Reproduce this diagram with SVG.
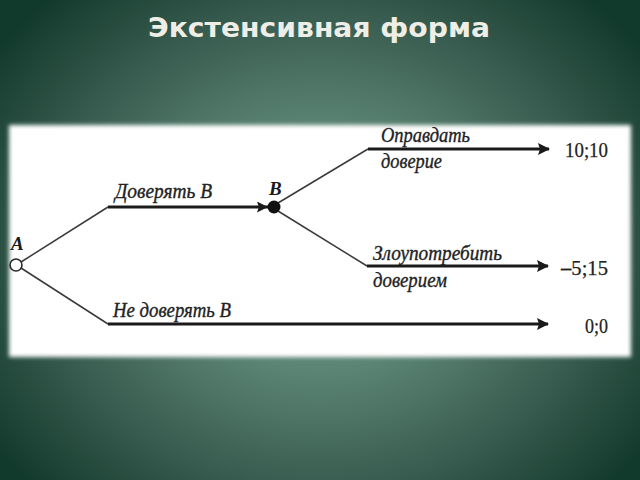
<svg xmlns="http://www.w3.org/2000/svg" width="640" height="480" viewBox="0 0 640 480">
  <defs>
    <radialGradient id="bg" gradientUnits="userSpaceOnUse" cx="320" cy="250" r="400" gradientTransform="translate(320 250) scale(1 0.85) translate(-320 -250)">
      <stop offset="0" stop-color="#6f9a8a"/>
      <stop offset="0.35" stop-color="#5c8575"/>
      <stop offset="0.7" stop-color="#385c4f"/>
      <stop offset="1" stop-color="#123a2c"/>
    </radialGradient>
    <filter id="soft" x="-5%" y="-5%" width="110%" height="110%">
      <feGaussianBlur stdDeviation="2"/>
    </filter>
    <marker id="arr" viewBox="0 0 12 12" refX="11" refY="6" markerWidth="13" markerHeight="12" markerUnits="userSpaceOnUse" orient="auto">
      <path d="M0,0 L12,6 L0,12 L2,6 z" fill="#1a1a1a"/>
    </marker>
    <marker id="arrB" viewBox="0 0 12 12" refX="12" refY="6" markerWidth="11" markerHeight="11" markerUnits="userSpaceOnUse" orient="auto">
      <path d="M0,0 L12,6 L0,12 L2,6 z" fill="#1a1a1a"/>
    </marker>
  </defs>
  <style>
    .title { font-family: "DejaVu Sans", sans-serif; font-weight: bold; font-size: 26px; fill: #efeee6; }
    .lbl { font-family: "Liberation Serif", serif; font-style: italic; font-size: 20px; fill: #222; stroke: #222; stroke-width: 0.35; }
    .pl { font-family: "Liberation Serif", serif; font-style: italic; font-weight: bold; font-size: 19px; fill: #1a1a1a; }
    .pay { font-family: "Liberation Serif", serif; font-size: 20px; fill: #222; stroke: #222; stroke-width: 0.25; }
    .diag { stroke: #3a3a3a; stroke-width: 1.5; fill: none; }
    .edge { stroke: #1a1a1a; stroke-width: 3; fill: none; }
  </style>
  <rect x="0" y="0" width="640" height="480" fill="url(#bg)"/>
  <text class="title" x="319" y="37" text-anchor="middle" textLength="342" lengthAdjust="spacingAndGlyphs">Экстенсивная форма</text>
  <rect x="9" y="125" width="622" height="232" fill="#ffffff" filter="url(#soft)"/>
  <g id="connectors">
    <path class="diag" d="M21,262 L108,207"/>
    <path class="diag" d="M21,268 L108,324"/>
    <path class="diag" d="M278,203 L368,149"/>
    <path class="diag" d="M278,211 L367,266"/>
    <path class="edge" d="M108,207 L268,207" marker-end="url(#arrB)"/>
    <path class="edge" d="M368,149 L549,149" marker-end="url(#arr)"/>
    <path class="edge" d="M367,266 L548,266" marker-end="url(#arr)"/>
    <path class="edge" d="M108,324 L548,324" marker-end="url(#arr)"/>
  </g>
  <g id="edge-labels">
    <text class="lbl" x="115" y="198" textLength="97" lengthAdjust="spacingAndGlyphs">Доверять В</text>
    <text class="lbl" x="113" y="317" textLength="118" lengthAdjust="spacingAndGlyphs">Не доверять В</text>
    <text class="lbl" x="381" y="142" textLength="89" lengthAdjust="spacingAndGlyphs">Оправдать</text>
    <text class="lbl" x="381" y="168" textLength="61" lengthAdjust="spacingAndGlyphs">доверие</text>
    <text class="lbl" x="373" y="260" textLength="129" lengthAdjust="spacingAndGlyphs">Злоупотребить</text>
    <text class="lbl" x="373" y="287" textLength="74" lengthAdjust="spacingAndGlyphs">доверием</text>
  </g>
  <g id="node-A">
    <circle cx="16" cy="265" r="6" fill="#ffffff" stroke="#2a2a2a" stroke-width="1.6"/>
    <text class="pl" x="11" y="250">A</text>
  </g>
  <g id="node-B">
    <circle cx="274" cy="207" r="6.5" fill="#111111"/>
    <text class="pl" x="269" y="195">B</text>
  </g>
  <g id="payoff-1">
    <text class="pay" x="565" y="157" textLength="43" lengthAdjust="spacingAndGlyphs">10;10</text>
  </g>
  <g id="payoff-2">
    <text class="pay" x="561" y="275" textLength="47" lengthAdjust="spacingAndGlyphs"><tspan font-weight="bold">–</tspan>5;15</text>
  </g>
  <g id="payoff-3">
    <text class="pay" x="585" y="333" textLength="23" lengthAdjust="spacingAndGlyphs">0;0</text>
  </g>
</svg>
